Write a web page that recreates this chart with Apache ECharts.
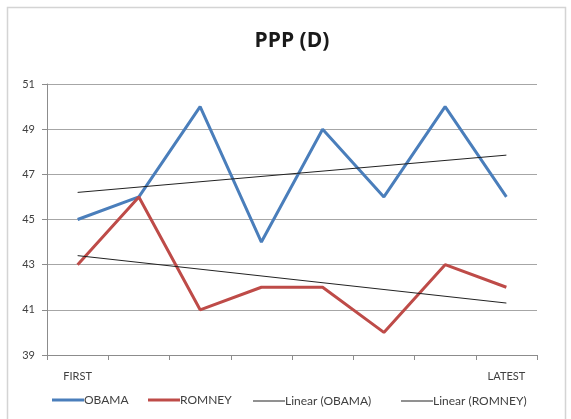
<!DOCTYPE html>
<html>
<head>
<meta charset="utf-8">
<title>PPP (D)</title>
<script src="https://cdn.jsdelivr.net/npm/echarts@6/dist/echarts.min.js"></script>
<style>
    html, body { margin: 0; padding: 0; background: #fff; }
    #div_chart { width: 571px; height: 419px; }
</style>
</head>
<body>
<div id="div_chart"></div>
<script>
// 数据
const categories = ['P1', 'P2', 'P3', 'P4', 'P5', 'P6', 'P7', 'P8'];
const xTickLabels = ['FIRST', '', '', '', '', '', '', 'LATEST'];
const obama = [45, 46, 50, 44, 49, 46, 50, 46];
const romney = [43, 46, 41, 42, 42, 40, 43, 42];
// 趋势线只读取两端的值
const obamaTrend = [46.2, null, null, null, null, null, null, 47.85];
const romneyTrend = [43.4, null, null, null, null, null, null, 41.3];
const yTicks = [39, 41, 43, 45, 47, 49, 51];
const seriesNames = ['OBAMA', 'ROMNEY', 'Linear (OBAMA)', 'Linear (ROMNEY)'];

const FONT = 'Lato';

/**
 * 单个图例(每项单独定位)
 */
const makeLegend = function (name, left, thick) {
    return {
        left: left,
        top: thick > 1 ? 389 : 390,
        icon: 'rect',
        itemWidth: 32,
        itemHeight: thick,
        textStyle: {
            fontFamily: FONT,
            fontSize: 12,
            color: '#404040',
            padding: [0, 0, 0, -5]
        },
        data: [name]
    };
};

/**
 * 初始化图表
 */
const initChart = function () {
    const option = {
        animation: false,
        backgroundColor: '#fff',
        title: {
            text: 'PPP (D)',
            left: 287,
            top: 26,
            textAlign: 'center',
            textStyle: {
                fontFamily: 'Open Sans',
                fontWeight: 'bold',
                fontSize: 21,
                color: '#1a1a1a'
            }
        },
        graphic: [
            {
                // 外框
                type: 'rect',
                shape: {x: 7.5, y: 7.5, width: 558, height: 430},
                style: {fill: 'none', stroke: '#d4d4d4', lineWidth: 1.5},
                silent: true
            }
        ],
        legend: [
            makeLegend(seriesNames[0], 47, 3),
            makeLegend(seriesNames[1], 143, 3),
            makeLegend(seriesNames[2], 248, 1),
            makeLegend(seriesNames[3], 396, 1)
        ],
        grid: {
            left: 47,
            right: 34,
            top: 84,
            bottom: 64
        },
        xAxis: {
            type: 'category',
            data: categories,
            boundaryGap: true,
            axisLine: {lineStyle: {color: '#8c8c8c', width: 1}},
            axisTick: {show: true, length: 5, lineStyle: {color: '#8c8c8c'}},
            axisLabel: {
                interval: 0,
                margin: 16,
                fontFamily: FONT,
                fontSize: 11,
                color: '#404040',
                formatter: function (value, index) {
                    return xTickLabels[index];
                }
            },
            splitLine: {show: false}
        },
        yAxis: {
            type: 'value',
            min: yTicks[0],
            max: yTicks[yTicks.length - 1],
            interval: 2,
            axisLine: {show: true, lineStyle: {color: '#8c8c8c', width: 1}},
            axisTick: {show: true, length: 5, lineStyle: {color: '#8c8c8c'}},
            axisLabel: {
                margin: 12,
                fontFamily: FONT,
                fontSize: 11,
                color: '#404040'
            },
            splitLine: {lineStyle: {color: '#a6a6a6', width: 1.2}}
        },
        series: [
            {
                name: seriesNames[0],
                type: 'line',
                data: obama,
                symbol: 'none',
                lineStyle: {color: '#4a7ebb', width: 3},
                itemStyle: {color: '#4a7ebb'}
            },
            {
                name: seriesNames[1],
                type: 'line',
                data: romney,
                symbol: 'none',
                lineStyle: {color: '#be4b48', width: 3},
                itemStyle: {color: '#be4b48'}
            },
            {
                name: seriesNames[2],
                type: 'line',
                data: obamaTrend,
                connectNulls: true,
                symbol: 'none',
                lineStyle: {color: '#222', width: 1},
                itemStyle: {color: '#222'}
            },
            {
                name: seriesNames[3],
                type: 'line',
                data: romneyTrend,
                connectNulls: true,
                symbol: 'none',
                lineStyle: {color: '#222', width: 1},
                itemStyle: {color: '#222'}
            }
        ]
    };

    const div_chart = echarts.init(document.getElementById('div_chart'));
    div_chart.setOption(option);
};

initChart();
</script>
</body>
</html>
